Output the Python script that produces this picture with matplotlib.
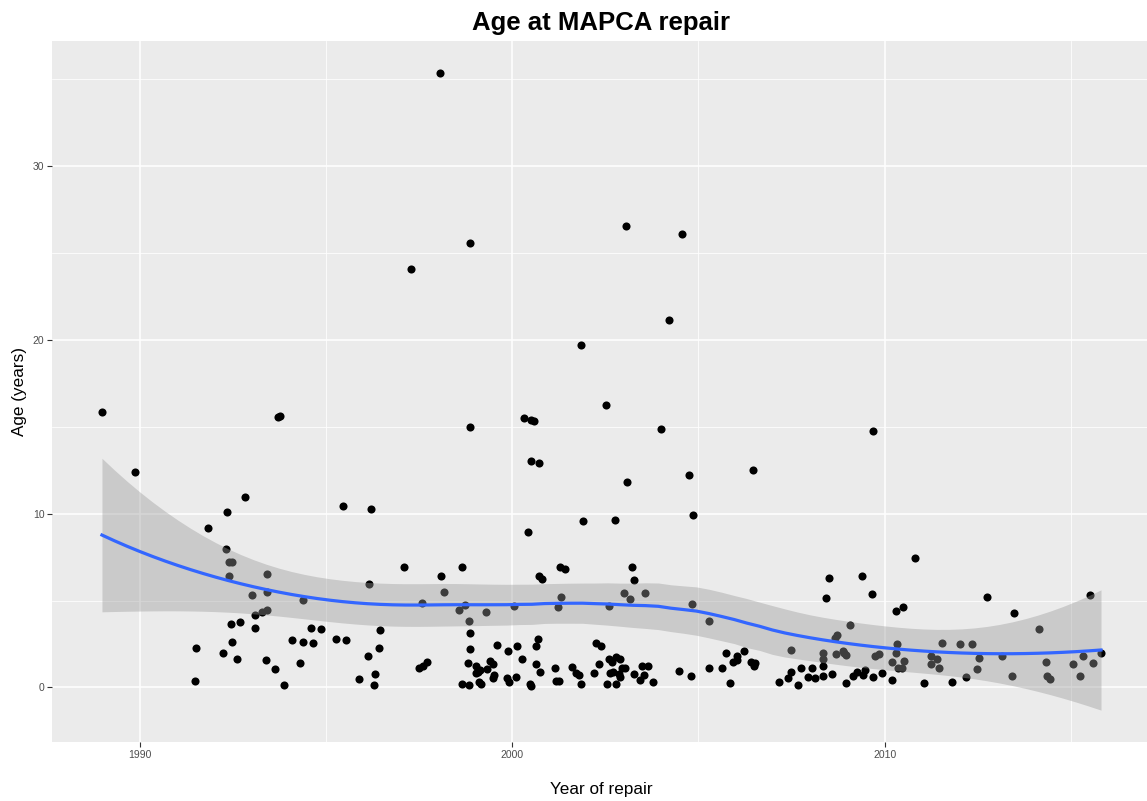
import numpy as np
import matplotlib
matplotlib.use("Agg")
import matplotlib.pyplot as plt
from matplotlib.ticker import FixedLocator

# ---- data (year of repair, age in years) ----
year = [
    1988.99, 1989.87, 1991.48, 1991.52, 1991.83, 1992.25, 1992.32, 1992.36, 1992.39, 1992.49,
    1992.39, 1992.45, 1992.48, 1992.62, 1992.70, 1992.84, 1993.03, 1993.09, 1993.10, 1993.28,
    1993.40, 1993.43, 1993.43, 1993.43, 1993.63, 1993.72, 1993.78, 1993.88, 1994.10, 1994.30,
    1994.38, 1994.40, 1994.60, 1994.65, 1994.87, 1995.28, 1995.46, 1995.55,
    1995.89, 1996.14, 1996.17, 1996.21, 1996.28, 1996.32, 1996.44, 1996.46, 1997.11, 1997.29,
    1997.50, 1997.58, 1997.60, 1997.71, 1998.06, 1998.08, 1998.17, 1998.57, 1998.66, 1998.66,
    1998.74, 1998.83, 1998.85, 1998.85, 1998.86, 1998.86, 1998.87, 1998.86,
    1999.03, 1999.08, 1999.04, 1999.15, 1999.11, 1999.17, 1999.32, 1999.29, 1999.41, 1999.48,
    1999.52, 1999.50, 1999.60, 1999.86, 1999.89, 1999.93, 2000.06, 2000.11, 2000.14, 2000.27,
    2000.33, 2000.44, 2000.47, 2000.51, 2000.52, 2000.52, 2000.58, 2000.64, 2000.64, 2000.69,
    2000.71, 2000.73, 2000.75, 2000.79,
    2001.14, 2001.18, 2001.27, 2001.22, 2001.30, 2001.32, 2001.41, 2001.61, 2001.72, 2001.79,
    2001.84, 2001.85, 2001.91, 2002.21, 2002.24, 2002.34, 2002.39, 2002.52, 2002.54, 2002.60,
    2002.61, 2002.68, 2002.75, 2002.80, 2002.62, 2002.70, 2002.79, 2002.90, 2002.90, 2002.96,
    2002.88, 2003.01, 2003.03, 2003.06, 2003.09, 2003.16, 2003.23, 2003.28, 2003.28, 2003.43,
    2003.48, 2003.55, 2003.57, 2003.64, 2003.77, 2004.00, 2004.21, 2004.48, 2004.56, 2004.75,
    2004.79, 2004.84, 2004.87,
    2005.29, 2005.30, 2005.64, 2005.74, 2005.85, 2005.94, 2006.03, 2006.03, 2006.23, 2006.41,
    2006.48, 2006.50, 2006.52, 2007.17, 2007.40, 2007.49, 2007.50, 2007.68, 2007.76, 2007.94,
    2008.04, 2008.13, 2008.36, 2008.36, 2008.36, 2008.36, 2008.44, 2008.51, 2008.60, 2008.67,
    2008.71, 2008.69, 2008.89, 2008.92, 2008.96, 2008.97, 2009.07, 2009.14, 2009.26, 2009.40,
    2009.43, 2009.47, 2009.66, 2009.69, 2009.70, 2009.74, 2009.86, 2009.92,
    2010.19, 2010.19, 2010.30, 2010.30, 2010.33, 2010.37, 2010.48, 2010.49, 2010.53, 2010.83,
    2011.06, 2011.25, 2011.25, 2011.41, 2011.45, 2011.54, 2011.81, 2012.02, 2012.18, 2012.35,
    2012.49, 2012.54, 2012.74, 2013.15, 2013.41, 2013.48, 2014.14, 2014.33, 2014.36, 2014.44,
    2015.05, 2015.25, 2015.34, 2015.52, 2015.60, 2015.81,
]
age = [
    15.87, 12.39, 0.39, 2.28, 9.17, 1.99, 7.99, 10.10, 7.20, 7.20,
    6.40, 3.63, 2.64, 1.64, 3.75, 10.97, 5.30, 3.44, 4.15, 4.36,
    1.56, 6.55, 5.48, 4.44, 1.06, 15.55, 15.62, 0.12, 2.72, 1.39,
    5.04, 2.64, 3.44, 2.57, 3.36, 2.78, 10.44, 2.72,
    0.46, 1.83, 5.96, 10.25, 0.12, 0.75, 2.28, 3.28, 6.91, 24.11,
    1.14, 4.88, 1.22, 1.48, 35.37, 6.41, 5.52, 4.45, 6.91, 0.18,
    4.74, 1.41, 3.80, 0.12, 25.56, 15.00, 3.14, 2.20,
    1.25, 0.87, 0.81, 1.02, 0.29, 0.19, 1.06, 4.34, 1.54, 1.33,
    0.71, 0.56, 2.47, 0.52, 2.07, 0.33, 4.69, 0.58, 2.41, 1.62,
    15.50, 8.94, 0.19, 0.06, 15.37, 13.05, 15.33, 2.36, 1.33, 2.78,
    12.90, 6.41, 0.91, 6.24,
    1.10, 0.39, 0.39, 4.63, 6.95, 5.23, 6.83, 1.20, 0.81, 0.71,
    0.17, 19.71, 9.56, 0.83, 2.57, 1.33, 2.41, 16.24, 0.17, 1.64,
    4.69, 1.45, 9.63, 1.78, 0.83, 0.87, 0.19, 0.58, 1.64, 1.10,
    0.77, 5.46, 1.12, 26.54, 11.81, 5.10, 6.95, 6.18, 0.77, 0.44,
    1.25, 0.71, 5.46, 1.25, 0.33, 14.85, 21.16, 0.97, 26.07, 12.25,
    0.68, 4.82, 9.92,
    1.12, 3.85, 1.12, 1.99, 0.25, 1.49, 1.83, 1.60, 2.07, 1.49,
    12.53, 1.22, 1.41, 0.33, 0.52, 0.91, 2.13, 0.14, 1.10, 0.62,
    1.14, 0.52, 1.99, 1.64, 1.22, 0.68, 5.15, 6.31, 0.75, 2.84,
    2.99, 1.93, 2.12, 1.99, 1.87, 0.25, 3.57, 0.68, 0.91, 6.39,
    0.71, 1.02, 5.37, 14.77, 0.62, 1.83, 1.93, 0.83,
    0.44, 1.49, 4.42, 1.99, 2.49, 1.12, 1.10, 4.65, 1.54, 7.47,
    0.25, 1.83, 1.33, 1.62, 1.12, 2.57, 0.33, 2.49, 0.60, 2.49,
    1.04, 1.68, 5.23, 1.83, 0.68, 4.30, 3.36, 1.49, 0.68, 0.48,
    1.33, 0.68, 1.83, 5.31, 1.41, 2.00,
]

x_ticks = [1990, 2000, 2010]
y_ticks = [0, 10, 20, 30]

title = "Age at MAPCA repair"
xlabel = "Year of repair"
ylabel = "Age (years)"

x = np.asarray(year, float)
y = np.asarray(age, float)


# ---- loess (degree 2, span 0.75) with 95% CI, like geom_smooth ----
def loess_rows(xd, x0s, span=0.75):
    n = len(xd)
    q = int(np.floor(n * span))
    rows = []
    for x0 in x0s:
        d = np.abs(xd - x0)
        h = np.sort(d)[q - 1]
        w = np.clip(1 - (d / h) ** 3, 0, None) ** 3
        X = np.column_stack([np.ones(n), xd - x0, (xd - x0) ** 2])
        XtW = X.T * w
        A = XtW @ X
        l = np.linalg.solve(A, XtW)[0]
        rows.append(l)
    return np.array(rows)


L = loess_rows(x, x)
fit_obs = L @ y
res = y - fit_obs
IL = np.eye(len(x)) - L
M = IL.T @ IL
d1 = np.trace(M)
d2 = np.trace(M @ M)
s = np.sqrt(np.sum(res ** 2) / d1)
df = d1 ** 2 / d2
z = 1.959964
tq = z + (z ** 3 + z) / (4 * df)

xs = np.linspace(x.min(), x.max(), 80)
Ls = loess_rows(x, xs)
fit = Ls @ y
se = s * np.sqrt(np.sum(Ls ** 2, axis=1))
lo = fit - tq * se
hi = fit + tq * se

# ---- figure ----
FONT = ["Liberation Sans", "DejaVu Sans"]
W, H = 1147, 801
fig = plt.figure(figsize=(W / 100, H / 100), dpi=100)
fig.patch.set_facecolor("white")

xmin = x.min() - 0.05 * (x.max() - x.min())
xmax = x.max() + 0.05 * (x.max() - x.min())
ylo_all = min(y.min(), lo.min())
yhi_all = max(y.max(), hi.max())
ymin = ylo_all - 0.05 * (yhi_all - ylo_all)
ymax = yhi_all + 0.05 * (yhi_all - ylo_all)

left_px, bottom_px = 52, 59
px_per_year = 37.25
width_px = (xmax - xmin) * px_per_year
height_px = 742 - 41
ax = fig.add_axes([left_px / W, bottom_px / H, width_px / W, height_px / H])
ax.set_facecolor("#EBEBEB")
ax.set_xlim(xmin, xmax)
ax.set_ylim(ymin, ymax)

ax.xaxis.set_major_locator(FixedLocator(x_ticks))
ax.yaxis.set_major_locator(FixedLocator(y_ticks))
ax.xaxis.set_minor_locator(FixedLocator([1995, 2005, 2015]))
ax.yaxis.set_minor_locator(FixedLocator([5, 15, 25, 35]))
ax.grid(which="major", color="white", linewidth=1.1)
ax.grid(which="minor", color="white", linewidth=0.55)
ax.set_axisbelow(True)
for sp in ax.spines.values():
    sp.set_visible(False)
ax.tick_params(which="major", length=3.5, width=0.8, color="#333333",
               labelsize=7.5, labelcolor="#4D4D4D", pad=2)
ax.tick_params(which="minor", length=0)
for lab in ax.get_xticklabels() + ax.get_yticklabels():
    lab.set_fontfamily(FONT)

ax.scatter(x, y, s=34, color="black", linewidths=0, zorder=3)
ax.fill_between(xs, lo, hi, color="#999999", alpha=0.4, linewidth=0, zorder=4)
ax.plot(xs, fit, color="#3366FF", linewidth=2.3, zorder=5)

ax.set_title(title, fontsize=18.5, fontweight="bold", family=FONT,
             pad=8, color="black")
ax.set_xlabel(xlabel, fontsize=12.3, family=FONT, labelpad=16, color="black")
ax.set_ylabel(ylabel, fontsize=12.3, family=FONT, labelpad=4, color="black")

fig.savefig("out.png", dpi=100, facecolor="white")
